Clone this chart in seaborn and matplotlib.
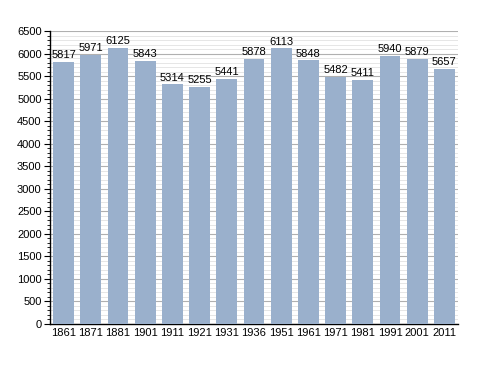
import matplotlib
matplotlib.use("Agg")
import matplotlib.pyplot as plt
import seaborn as sns
import pandas as pd
from matplotlib.ticker import MultipleLocator

years = ["1861", "1871", "1881", "1901", "1911", "1921", "1931", "1936",
         "1951", "1961", "1971", "1981", "1991", "2001", "2011"]
population = [5817, 5971, 6125, 5843, 5314, 5255, 5441, 5878,
              6113, 5848, 5482, 5411, 5940, 5879, 5657]

sns.set_theme(style="white")
plt.rcParams['font.family'] = ['Liberation Sans', 'DejaVu Sans']
plt.rcParams['text.color'] = 'black'
plt.rcParams['xtick.color'] = 'black'
plt.rcParams['ytick.color'] = 'black'

df = pd.DataFrame({"year": years, "pop": population})

fig = plt.figure(figsize=(4.88, 3.73), dpi=100)
ax = fig.add_axes([50/488, 49/373, 408/488, 293/373])

sns.barplot(data=df, x="year", y="pop", color="#9ab0cc", saturation=1,
            width=0.77, ax=ax, zorder=3, edgecolor="none", linewidth=0)

ax.set_ylim(0, 6500)
ax.set_xlim(-0.5, len(years) - 0.5)
ax.yaxis.set_major_locator(MultipleLocator(500))
ax.yaxis.set_minor_locator(MultipleLocator(100))
ax.grid(which="major", axis="y", color="#b0b0b0", linewidth=0.8, zorder=0)
ax.grid(which="minor", axis="y", color="#e2e2e2", linewidth=0.6, zorder=0)
ax.set_axisbelow(True)

for s in ["top", "right"]:
    ax.spines[s].set_visible(False)
for s in ["left", "bottom"]:
    ax.spines[s].set_color("black")
    ax.spines[s].set_linewidth(1.0)

ax.tick_params(axis="y", which="major", direction="out", length=4, width=0.8,
               color="black", labelcolor="black", labelsize=8, pad=2, left=True)
ax.tick_params(axis="y", which="minor", direction="out", length=2, width=0.6,
               color="black", left=True)
ax.tick_params(axis="x", length=0, labelsize=8, labelcolor="black", pad=3)
ax.set_xlabel("")
ax.set_ylabel("")

for i, v in enumerate(population):
    ax.text(i, v + 40, str(v), ha="center", va="bottom", fontsize=8,
            color="black", zorder=4)

fig.savefig("out.png", dpi=100)
